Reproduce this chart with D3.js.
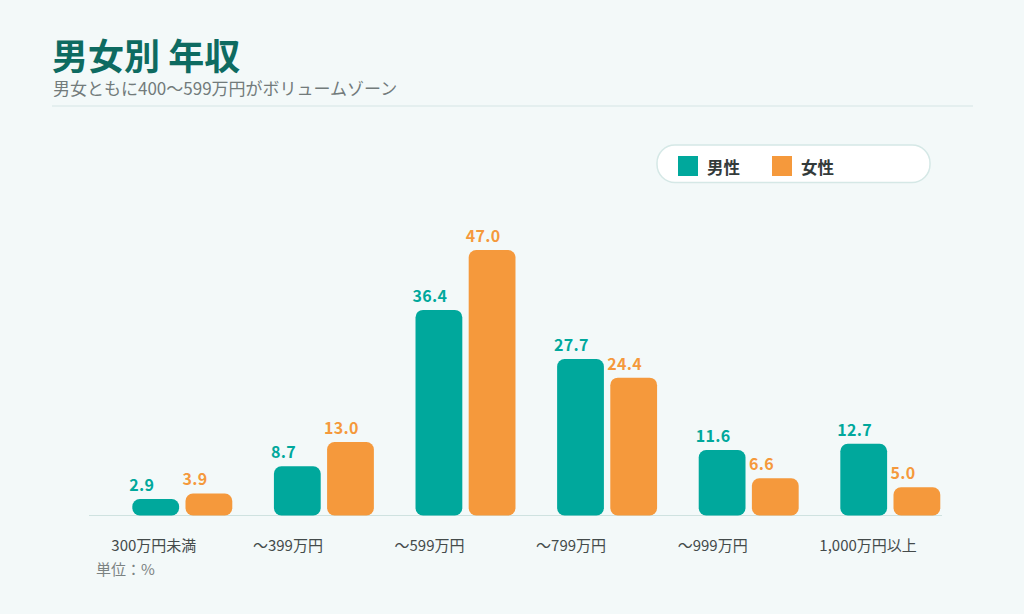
<!DOCTYPE html>
<html>
<head>
<meta charset="utf-8">
<script src="https://cdn.jsdelivr.net/npm/d3@7"></script>
<style>
  html, body { margin: 0; padding: 0; background: #f3f9f9; }
  svg { display: block; font-family: "Noto Sans CJK JP", "Noto Sans", sans-serif; }
</style>
</head>
<body>
<svg id="chart"></svg>
<script>
// data
const categories = ["300万円未満", "～399万円", "～599万円", "～799万円", "～999万円", "1,000万円以上"];
const seriesNames = ["男性", "女性"];
const maleValues = [2.9, 8.7, 36.4, 27.7, 11.6, 12.7];
const femaleValues = [3.9, 13.0, 47.0, 24.4, 6.6, 5.0];

const colors = {"男性": "#00a89c", "女性": "#f5993c"};

const width = 1024, height = 614;
const baseY = 515.5;

const svg = d3.select("#chart")
  .attr("width", width)
  .attr("height", height);

svg.append("rect")
  .attr("width", width).attr("height", height)
  .attr("fill", "#f3f9f9");

// title block
svg.append("text")
  .attr("x", 52).attr("y", 69.5)
  .attr("fill", "#0e6b61")
  .style("font-size", "36px")
  .style("font-weight", 700)
  .text("男女別 年収");

svg.append("text")
  .attr("x", 53).attr("y", 95)
  .attr("fill", "#727b7b")
  .style("font-size", "17px")
  .text("男女ともに400～599万円がボリュームゾーン");

svg.append("line")
  .attr("x1", 52).attr("x2", 973)
  .attr("y1", 106).attr("y2", 106)
  .attr("stroke", "#d6e6e5")
  .attr("stroke-width", 1.2);

// legend
const legend = svg.append("g");
legend.append("rect")
  .attr("x", 657).attr("y", 145)
  .attr("width", 273).attr("height", 37.5)
  .attr("rx", 18)
  .attr("fill", "#ffffff")
  .attr("stroke", "#d5e8e6")
  .attr("stroke-width", 1.5);

const legendX = [678, 772];
seriesNames.forEach((s, i) => {
  legend.append("rect")
    .attr("x", legendX[i]).attr("y", 156)
    .attr("width", 20).attr("height", 20)
    .attr("fill", colors[s]);
  legend.append("text")
    .attr("x", legendX[i] + 29).attr("y", 173.5)
    .attr("fill", "#333a3a")
    .style("font-size", "16.5px")
    .style("font-weight", 700)
    .text(s);
});

// scales
const x0 = d3.scaleBand()
  .domain(categories)
  .range([111.5, 961.1])
  .paddingInner(0.294)
  .paddingOuter(0.147);

const x1 = d3.scaleBand()
  .domain(seriesNames)
  .range([0, x0.bandwidth()])
  .paddingInner(0.12);

const y = d3.scaleLinear()
  .domain([0, 47])
  .range([baseY, 250]);

const rows = categories.map((c, i) => ({
  cat: c,
  values: [
    {key: "男性", value: maleValues[i]},
    {key: "女性", value: femaleValues[i]}
  ]
}));

// baseline
svg.append("line")
  .attr("x1", 89).attr("x2", 942)
  .attr("y1", baseY).attr("y2", baseY)
  .attr("stroke", "#cfe2e0")
  .attr("stroke-width", 1.2);

const groups = svg.selectAll("g.group")
  .data(rows)
  .join("g")
  .attr("class", "group")
  .attr("transform", d => `translate(${x0(d.cat)},0)`);

groups.selectAll("rect")
  .data(d => d.values)
  .join("rect")
  .attr("x", d => x1(d.key))
  .attr("y", d => y(d.value))
  .attr("width", x1.bandwidth())
  .attr("height", d => baseY - y(d.value))
  .attr("rx", d => Math.min(7.5, (baseY - y(d.value)) / 2))
  .attr("fill", d => colors[d.key]);

groups.selectAll("text.val")
  .data(d => d.values)
  .join("text")
  .attr("class", "val")
  .attr("x", d => x1(d.key) - 3)
  .attr("y", d => y(d.value) - 8)
  .attr("fill", d => colors[d.key])
  .style("font-size", "16px")
  .style("font-weight", 700)
  .style("letter-spacing", "0.3px")
  .text(d => d.value.toFixed(1));

// category labels
svg.selectAll("text.cat")
  .data(categories)
  .join("text")
  .attr("class", "cat")
  .attr("x", d => x0(d) - 21)
  .attr("y", 551)
  .attr("fill", "#444b4b")
  .style("font-size", "15px")
  .text(d => d);

svg.append("text")
  .attr("x", 96).attr("y", 575)
  .attr("fill", "#7b8282")
  .style("font-size", "15px")
  .text("単位：%");
</script>
</body>
</html>
